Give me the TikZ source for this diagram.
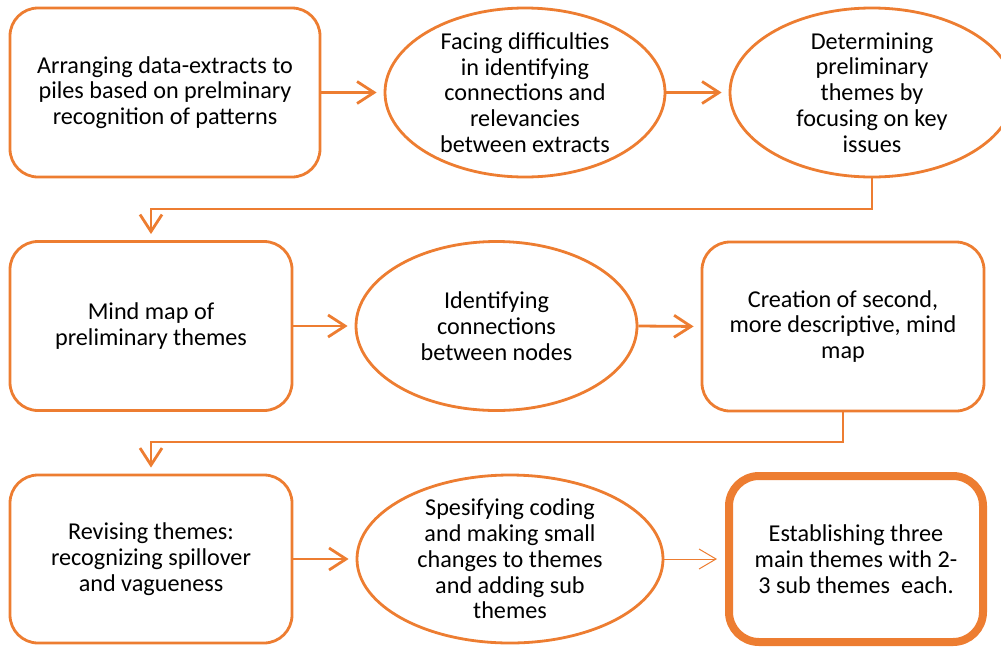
\documentclass[tikz,border=0pt]{standalone}
\usepackage{fontspec}
\setmainfont{Carlito}
\usetikzlibrary{arrows.meta,shapes.geometric}
\definecolor{accent}{HTML}{ED7D31}
\begin{document}
\begin{tikzpicture}[x=1pt,y=-1pt,
  txt/.style={font=\fontsize{24.2}{25.8}\selectfont, text=black, align=center, inner sep=0pt},
  stage/.style={txt, draw=accent, line width=2.8pt, rounded corners=28pt, fill=white},
  oval/.style={draw=accent, line width=2.8pt, ellipse, inner sep=0pt, fill=white},
  flow/.style={draw=accent, line width=2.8pt, -{Straight Barb[length=17pt,width=22pt]}, shorten >=7pt},
  thinflow/.style={draw=accent, line width=1pt, -{Straight Barb[length=17pt,width=20pt]}, shorten >=8pt}
]
\useasboundingbox (0,0) rectangle (1001,646);

% row 1
\node[stage, minimum width=310pt, minimum height=169pt] (b1) at (165,92.5)
  {Arranging data-extracts to\\piles based on prelminary\\recognition of patterns};
\node[oval, minimum width=280pt, minimum height=169pt] (e2) at (525,92.5) {};
\node[txt] (t2) at (e2.center) {Facing difficulties\\in identifying\\connections and\\relevancies\\between extracts};
\node[oval, minimum width=284pt, minimum height=169pt] (e3) at (872,92.5) {};
\node[txt] (t3) at (e3.center) {Determining\\preliminary\\themes by\\focusing on key\\issues};

% row 2
\node[stage, minimum width=282pt, minimum height=169pt] (b2) at (151,326)
  {Mind map of\\preliminary themes};
\node[oval, minimum width=281pt, minimum height=169pt] (e4) at (496.5,326) {};
\node[txt] (t4) at (e4.center) {Identifying\\connections\\between nodes};
\node[stage, minimum width=282pt, minimum height=169pt] (b3) at (843,326.5)
  {Creation of second,\\more descriptive, mind\\map};

% row 3
\node[stage, minimum width=282pt, minimum height=168pt] (b4) at (151,559)
  {Revising themes:\\recognizing spillover\\and vagueness};
\node[oval, minimum width=306pt, minimum height=168pt] (e5) at (510,559) {};
\node[txt] (t5) at (e5.center) {Spesifying coding\\and making small\\changes to themes\\and adding sub\\themes};
\node[stage, line width=8pt, rounded corners=30pt, minimum width=254pt, minimum height=166pt] (b5) at (856,559)
  {Establishing three\\main themes with 2-\\3 sub themes~ each.};

% connectors
\coordinate (k1) at (151,209);
\coordinate (k2) at (151,442);
\draw[flow] (b1.east) -- (e2.west);
\draw[flow] (e2.east) -- (e3.west);
\draw[flow, shorten >=6pt] (e3.south) |- (k1) -- (b2.north);
\draw[flow] (b2.east) -- (e4.west);
\draw[flow] (e4.east) -- (b3.west);
\draw[flow, shorten >=6pt] (b3.south) |- (k2) -- (b4.north);
\draw[flow] (b4.east) -- (e5.west);
\draw[thinflow] (e5.east) -- (b5.west);
\end{tikzpicture}
\end{document}
